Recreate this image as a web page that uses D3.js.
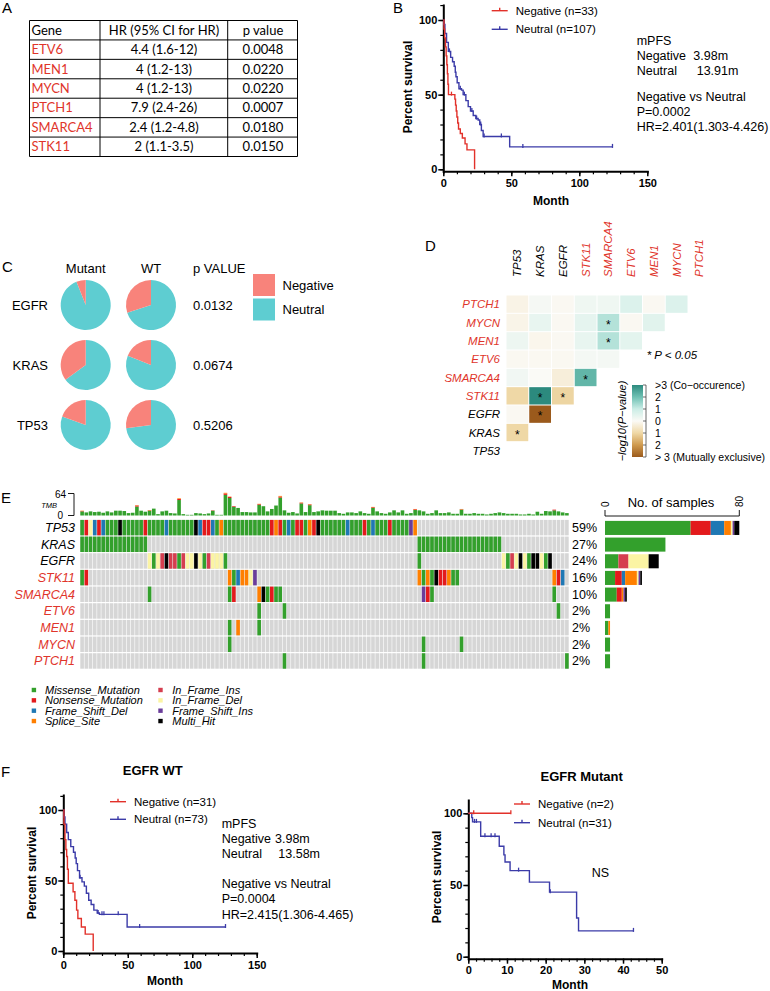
<!DOCTYPE html>
<html>
<head>
<meta charset="utf-8">
<script src="https://cdn.jsdelivr.net/npm/d3@7"></script>
<style>
body { margin: 0; background: #fff; }
svg { display: block; font-family: "Liberation Sans", Arial, sans-serif; }
</style>
</head>
<body>
<div id="chart-area"></div>
<script>

// ---------------- data ----------------

// A: Cox regression table
var tableHeader = ["Gene", "HR (95% CI for HR)", "p value"];
var tableGenes = ["ETV6", "MEN1", "MYCN", "PTCH1", "SMARCA4", "STK11"];
var tableHR = ["4.4 (1.6-12)", "4 (1.2-13)", "4 (1.2-13)", "7.9 (2.4-26)", "2.4 (1.2-4.8)", "2 (1.1-3.5)"];
var tableP = ["0.0048", "0.0220", "0.0220", "0.0007", "0.0180", "0.0150"];

// B: Kaplan-Meier, all patients  [month, percent survival]
var bNegative = [[0,100],[0.5,94],[1,88],[1.6,82],[2.1,76],[2.6,70],[3,64],[3.4,57],[3.8,50],[8.5,47],[9,43],[9.5,39],[10,35],[10.6,31],[11.2,27],[12.5,24],[14,21],[16,17],[17.4,13],[23,0]];
var bNegativeCensor = [6];
var bNeutral = [[0,100],[0.4,97],[1.2,91],[2.4,85],[3.7,79],[5.4,75],[6.8,72],[8,69],[8.8,65],[9.3,62],[10.2,58],[11.5,54],[13.4,53],[14.6,50],[16.6,46],[18.3,42],[20,39],[22,36],[23.9,34],[25.6,33],[26.8,30],[28,26],[29.3,22],[48.8,15]];
var bNeutralEnd = 124.4;
var bNeutralCensor = [4.5, 12.5, 15.5, 21, 24.5, 27.5, 30, 42.7, 58.5, 124.4];

// C: pies (share of Negative)
var pieGenes = ["EGFR", "KRAS", "TP53"];
var pieMutantNeg = [0.06, 0.35, 0.195];
var pieWtNeg = [0.30, 0.19, 0.27];
var pieP = ["0.0132", "0.0674", "0.5206"];

// D: somatic interactions, signed -log10(p) (lower triangle) and significance
var hmGenes = ["TP53", "KRAS", "EGFR", "STK11", "SMARCA4", "ETV6", "MEN1", "MYCN", "PTCH1"];
var hmValues = [
    [],
    [-1.0],
    [-0.05, -3],
    [-1.0, 3, -1.05],
    [0.2, 0.02, -0.35, 2.2],
    [-0.06, -0.06, -0.06, 0.15, 0.15],
    [0.3, -0.12, -0.05, 0.4, 1.25, 0.5],
    [-0.18, 0.4, -0.05, 0.45, 1.25, -0.05, 0.55],
    [-0.2, 0.12, -0.05, 0.25, 0.25, 0.65, -0.05, 0.65]
];
var hmSig = [
    [],
    [1],
    [0, 1],
    [0, 1, 1],
    [0, 0, 0, 1],
    [0, 0, 0, 0, 0],
    [0, 0, 0, 0, 1, 0],
    [0, 0, 0, 0, 1, 0, 0],
    [0, 0, 0, 0, 0, 0, 0, 0]
];

// E: oncoplot
var nSamples = 116;
var oncoGenes = ["TP53", "KRAS", "EGFR", "STK11", "SMARCA4", "ETV6", "MEN1", "MYCN", "PTCH1"];
var oncoPct = ["59%", "27%", "24%", "16%", "10%", "2%", "2%", "2%", "2%"];
var mutTypes = ["Missense_Mutation", "Nonsense_Mutation", "Frame_Shift_Del", "Splice_Site", "In_Frame_Ins", "In_Frame_Del", "Frame_Shift_Ins", "Multi_Hit"];
var mutCodes = ["M", "N", "D", "S", "I", "E", "F", "H"];
var mutColors = ["#33a02c", "#e31a1c", "#1f78b4", "#ff7f00", "#d53e4f", "#fbf4a4", "#6a3d9a", "#000000"];
// [first sample column, one code per sample]
var oncoSegments = [
    [[0, "MNEDNDMMMHMMMMMNMMMMDMMMMMMHDNNDMSMMMMMMMMMMMNSNMDMNNMSNHMMMMMMDMMMNMDMMMNMMMMFS"]],
    [[0, "MMMMMMMMMMMMMMMM"], [80, "MMMMMMMMMMMMMMMMMMMM"]],
    [[16, "EMEIHIIMIEEHEMIEEEM"], [80, "M"], [100, "EMIEHEMHHEMH"]],
    [[0, "MN"], [35, "SMDSSEF"], [80, "SMSMHNNSMM"], [112, "SND"]],
    [[16, "M"], [35, "MN"], [42, "SHMNMM"], [81, "FNM"], [112, "M"]],
    [[42, "M"], [48, "M"], [113, "M"]],
    [[35, "M"], [37, "S"], [42, "M"]],
    [[35, "M"], [81, "M"], [90, "M"]],
    [[48, "M"], [81, "M"], [115, "M"]]
];
var tmb = [
    14, 9, 12, 10, 11, 8, 12, 9, 14, 14,
    13, 7, 8, 30, 14, 11, 16, 20, 4, 12,
    14, 7, 6, 50, 4, 2, 2, 7, 6, 4,
    6, 15, 2, 2, 66, 55, 27, 22, 10, 10,
    9, 9, 34, 27, 12, 19, 29, 57, 15, 8,
    10, 6, 38, 10, 33, 10, 12, 15, 14, 14,
    14, 7, 5, 9, 9, 7, 12, 7, 5, 25,
    12, 7, 5, 9, 15, 9, 15, 5, 7, 19,
    15, 12, 5, 7, 15, 7, 7, 9, 5, 5,
    19, 5, 5, 7, 5, 5, 3, 5, 7, 9,
    7, 5, 5, 5, 3, 3, 5, 3, 11, 5,
    13, 12, 17, 12, 9, 7
];
// [sample column, nonsense part, splice part] of TMB
var tmbTop = [[0,1,1],[13,3,1],[16,1,1],[23,3,2],[31,1,0],[34,4,2],[35,3,1],[36,2,0],[42,2,1],[47,3,2],[52,2,1],[54,2,1],[69,2,1],[79,2,1],[90,1,1],[112,2,0]];

// F: Kaplan-Meier by EGFR status
var wtNegative = [[0,100],[0.5,90],[1.3,79],[2,72],[2.6,67],[3.2,58],[3.9,48],[7.6,42],[9,36],[10.3,29],[11.3,23],[14,17],[17,12],[23.2,0]];
var wtNeutral = [[0,100],[0.5,95],[1.3,90],[2.6,84],[3.9,79],[5.8,74],[7.9,70],[9.2,66],[10,62],[11,57],[12.6,52],[14.5,49],[16.3,46],[17.9,41],[19.7,36],[21.6,33],[23.7,29],[26.3,27],[28,26],[49.5,17]];
var wtNeutralEnd = 125.8;
var wtNeutralCensor = [13, 27, 30, 31.5, 42.6, 59.2, 125.8];
var mutNegative = [[0,100]];
var mutNegativeEnd = 11;
var mutNegativeCensor = [1.4, 11];
var mutNeutral = [[0,100],[0.9,97],[1.1,94],[3.2,84],[8,77],[9.2,71],[9.5,66],[10.8,60],[15.8,52],[21,45],[28,27],[28.5,18]];
var mutNeutralEnd = 42.7;
var mutNeutralCensor = [1.6, 2.1, 4.3, 5.9, 6.9, 13, 21.2, 42.7];


// ---------------- drawing ----------------

var RED = "#e2312a", BLUE = "#3b3ba8", GENE_RED = "#e0352b";
var NEG = "#f8837b", NEU = "#5ecdd1";

var svg = d3.select("#chart-area").append("svg")
    .attr("width", 770)
    .attr("height", 991);
svg.append("rect").attr("width", 770).attr("height", 991).attr("fill", "#fff");

// panel letters
[["A", 2, 13], ["B", 393, 13], ["C", 2, 272], ["D", 425, 251], ["E", 1, 503], ["F", 1, 777]].forEach(function(l) {
    svg.append("text").attr("x", l[1]).attr("y", l[2]).attr("font-size", 15).text(l[0]);
});

tableA();
kmB();
pieC();
heatmapD();
oncoplotE();
kmF();


function tableA() {
    var g = svg.append("g").attr("font-family", "Lato, 'Liberation Sans', sans-serif").attr("font-size", 13);
    var colX = [29.5, 100, 227.7, 297.5];
    var rows = d3.range(tableGenes.length + 1);
    var y = d3.scaleBand().domain(rows).range([20.5, 156.5]);

    g.selectAll(".hl").data(d3.range(rows.length + 1)).enter().append("line")
        .attr("x1", colX[0]).attr("x2", colX[3])
        .attr("y1", function(i) { return 20.5 + i * y.bandwidth(); })
        .attr("y2", function(i) { return 20.5 + i * y.bandwidth(); })
        .attr("stroke", "#000").attr("stroke-width", 1);
    g.selectAll(".vl").data(colX).enter().append("line")
        .attr("x1", function(d) { return d; }).attr("x2", function(d) { return d; })
        .attr("y1", 20.5).attr("y2", 156.5)
        .attr("stroke", "#000").attr("stroke-width", 1);

    var cy = function(i) { return y(i) + y.bandwidth() / 2 + 4.5; };
    g.append("text").attr("x", 31.5).attr("y", cy(0)).text(tableHeader[0]);
    g.append("text").attr("x", 164).attr("y", cy(0)).attr("text-anchor", "middle").text(tableHeader[1]);
    g.append("text").attr("x", 263).attr("y", cy(0)).attr("text-anchor", "middle").text(tableHeader[2]);

    g.selectAll(".gn").data(tableGenes).enter().append("text")
        .attr("x", 31.5).attr("y", function(d, i) { return cy(i + 1); })
        .attr("fill", GENE_RED).text(function(d) { return d; });
    g.selectAll(".hr").data(tableHR).enter().append("text")
        .attr("x", 164).attr("y", function(d, i) { return cy(i + 1); })
        .attr("text-anchor", "middle").text(function(d) { return d; });
    g.selectAll(".pv").data(tableP).enter().append("text")
        .attr("x", 263).attr("y", function(d, i) { return cy(i + 1); })
        .attr("text-anchor", "middle").text(function(d) { return d; });
}


function stepAt(pts, t) {
    var v = pts[0][1];
    pts.forEach(function(p) { if (p[0] <= t) v = p[1]; });
    return v;
}

function drawKM(o) {
    var g = svg.append("g");
    var x = d3.scaleLinear().domain(o.xDomain).range(o.xRange);
    var y = d3.scaleLinear().domain([0, 100]).range(o.yRange);
    var axisY = o.yRange[0] + 2;
    var yAx = d3.scaleLinear().domain([y.invert(axisY), y.invert(o.yTop)]).range([axisY, o.yTop]);

    var style = function(s) {
        s.selectAll("line").attr("stroke", "#000").attr("stroke-width", 1.5);
        s.selectAll("path").attr("stroke", "#000").attr("stroke-width", 2).attr("stroke-linecap", "square");
        s.selectAll("text").attr("font-size", 11).attr("font-weight", "bold").attr("fill", "#000")
            .attr("font-family", "'Liberation Sans', Arial, sans-serif");
    };

    // minor ticks
    var xMinor = d3.range(o.xDomain[0], o.xDomain[1] + 0.001, o.xMinor);
    var yMinor = d3.range(0, 121, 10).filter(function(v) { return y(v) >= o.yTop - 0.5; });
    g.append("g").attr("transform", "translate(0," + axisY + ")")
        .call(d3.axisBottom(x).tickValues(xMinor).tickSize(3).tickFormat(""))
        .call(function(s) { s.select(".domain").remove(); s.selectAll("line").attr("stroke-width", 1.2); });
    g.append("g").attr("transform", "translate(" + o.xRange[0] + ",0)")
        .call(d3.axisLeft(yAx).tickValues(yMinor).tickSize(3).tickFormat(""))
        .call(function(s) { s.select(".domain").remove(); s.selectAll("line").attr("stroke-width", 1.2); });

    // major axes
    g.append("g").attr("transform", "translate(0," + axisY + ")")
        .call(d3.axisBottom(x).tickValues(o.xMajor).tickSize(5).tickSizeOuter(0).tickPadding(3).tickFormat(d3.format("d")))
        .call(style);
    g.append("g").attr("transform", "translate(" + o.xRange[0] + ",0)")
        .call(d3.axisLeft(yAx).tickValues([0, 50, 100]).tickSize(5).tickSizeOuter(0).tickPadding(1).tickFormat(d3.format("d")))
        .call(style);

    // axis titles
    g.append("text").attr("transform", "translate(" + o.yTitle[0] + "," + o.yTitle[1] + ") rotate(-90)")
        .attr("text-anchor", "middle").attr("font-weight", "bold").attr("font-size", 12).text("Percent survival");
    g.append("text").attr("x", o.xTitle[0]).attr("y", o.xTitle[1])
        .attr("text-anchor", "middle").attr("font-weight", "bold").attr("font-size", 12).text("Month");

    // curves
    var line = d3.line().curve(d3.curveStepAfter)
        .x(function(d) { return x(d[0]); })
        .y(function(d) { return y(d[1]); });
    o.curves.forEach(function(c) {
        var pts = c.pts.slice();
        if (c.end != null) pts.push([c.end, pts[pts.length - 1][1]]);
        g.append("path").datum(pts).attr("d", line)
            .attr("fill", "none").attr("stroke", c.color).attr("stroke-width", 1.4);
        g.selectAll(null).data(c.censor).enter().append("line")
            .attr("x1", function(t) { return x(t); })
            .attr("x2", function(t) { return x(t); })
            .attr("y1", function(t) { return y(stepAt(c.pts, t)) - 3; })
            .attr("y2", function(t) { return y(stepAt(c.pts, t)) + 1; })
            .attr("stroke", c.color).attr("stroke-width", 1.3);
    });

    // legend
    o.legend.forEach(function(l) {
        g.append("line").attr("x1", l.x).attr("x2", l.x + 16).attr("y1", l.y).attr("y2", l.y)
            .attr("stroke", l.color).attr("stroke-width", 1.4);
        g.append("line").attr("x1", l.x + 8).attr("x2", l.x + 8).attr("y1", l.y - 3).attr("y2", l.y)
            .attr("stroke", l.color).attr("stroke-width", 1.4);
        g.append("text").attr("x", l.x + 24).attr("y", l.y + 4).attr("font-size", 11.5).text(l.label);
    });

    // annotations
    (o.notes || []).forEach(function(n) {
        g.append("text").attr("x", n[0]).attr("y", n[1]).attr("font-size", 12.5).text(n[2]);
    });

    if (o.title) {
        g.append("text").attr("x", o.title[0]).attr("y", o.title[1]).attr("text-anchor", "middle")
            .attr("font-weight", "bold").attr("font-size", 13).text(o.title[2]);
    }
}

function kmB() {
    drawKM({
        xDomain: [0, 150], xRange: [443.3, 647.3], yRange: [169.3, 20], yTop: 5,
        xMajor: [0, 50, 100, 150], xMinor: 10,
        yTitle: [412, 87], xTitle: [551, 205],
        curves: [
            {pts: bNeutral, end: bNeutralEnd, censor: bNeutralCensor, color: BLUE},
            {pts: bNegative, end: null, censor: bNegativeCensor, color: RED}
        ],
        legend: [
            {x: 491.7, y: 10.7, color: RED, label: "Negative (n=33)"},
            {x: 491.7, y: 29.3, color: BLUE, label: "Neutral (n=107)"}
        ],
        notes: [
            [636.7, 44.5, "mPFS"],
            [636.7, 59.5, "Negative"], [693.3, 59.5, "3.98m"],
            [636.7, 75, "Neutral"], [696.7, 75, "13.91m"],
            [636.7, 101, "Negative vs Neutral"],
            [636.7, 116, "P=0.0002"],
            [636.7, 131, "HR=2.401(1.303-4.426)"]
        ]
    });
}

function kmF() {
    drawKM({
        xDomain: [0, 150], xRange: [63.3, 256.7], yRange: [951, 810], yTop: 795,
        xMajor: [0, 50, 100, 150], xMinor: 10,
        yTitle: [35.5, 873], xTitle: [165, 985],
        title: [152.7, 775, "EGFR WT"],
        curves: [
            {pts: wtNeutral, end: wtNeutralEnd, censor: wtNeutralCensor, color: BLUE},
            {pts: wtNegative, end: null, censor: [], color: RED}
        ],
        legend: [
            {x: 110, y: 801.7, color: RED, label: "Negative (n=31)"},
            {x: 110, y: 819.3, color: BLUE, label: "Neutral (n=73)"}
        ],
        notes: [
            [221.7, 827.5, "mPFS"],
            [221.7, 843, "Negative"], [275, 843, "3.98m"],
            [221.7, 858, "Neutral"], [278.3, 858, "13.58m"],
            [221.7, 888, "Negative vs Neutral"],
            [221.7, 903, "P=0.0004"],
            [221.7, 918.5, "HR=2.415(1.306-4.465)"]
        ]
    });
    drawKM({
        xDomain: [0, 50], xRange: [468.3, 661.7], yRange: [956.7, 813.3], yTop: 800,
        xMajor: [0, 10, 20, 30, 40, 50], xMinor: 2,
        yTitle: [440.5, 877], xTitle: [570, 989],
        title: [581.7, 781, "EGFR Mutant"],
        curves: [
            {pts: mutNeutral, end: mutNeutralEnd, censor: mutNeutralCensor, color: BLUE},
            {pts: mutNegative, end: mutNegativeEnd, censor: mutNegativeCensor, color: RED}
        ],
        legend: [
            {x: 514, y: 804, color: RED, label: "Negative (n=2)"},
            {x: 514, y: 822.7, color: BLUE, label: "Neutral (n=31)"}
        ],
        notes: [[591.7, 876.5, "NS"]]
    });
}


function pieC() {
    var g = svg.append("g").attr("font-size", 13);
    var colX = [85.7, 151];
    var rowY = d3.scalePoint().domain(pieGenes).range([305, 425]);
    var pie = d3.pie().sort(null);
    var arc = d3.arc().innerRadius(0).outerRadius(25);

    g.append("text").attr("x", 85.7).attr("y", 273).attr("text-anchor", "middle").text("Mutant");
    g.append("text").attr("x", 151).attr("y", 273).attr("text-anchor", "middle").text("WT");
    g.append("text").attr("x", 193).attr("y", 273).text("p VALUE");

    pieGenes.forEach(function(gene, i) {
        [pieMutantNeg[i], pieWtNeg[i]].forEach(function(f, k) {
            g.append("g").attr("transform", "translate(" + colX[k] + "," + rowY(gene) + ")")
                .selectAll("path").data(pie([1 - f, f])).enter().append("path")
                .attr("d", arc)
                .attr("fill", function(d, j) { return j ? NEG : NEU; });
        });
        g.append("text").attr("x", 48).attr("y", rowY(gene) + 5).attr("text-anchor", "end").text(gene);
        g.append("text").attr("x", 193).attr("y", rowY(gene) + 5).text(pieP[i]);
    });

    // legend
    [["Negative", NEG, 274], ["Neutral", NEU, 298.5]].forEach(function(l) {
        g.append("rect").attr("x", 253).attr("y", l[2]).attr("width", 22).attr("height", 22).attr("fill", l[1]);
        g.append("text").attr("x", 282.5).attr("y", l[2] + 15.5).text(l[0]);
    });
}


function heatmapD() {
    var g = svg.append("g");
    var x = d3.scaleBand().domain(hmGenes).range([506, 506 + 9 * 22.75]);
    var y = d3.scaleBand().domain(hmGenes.slice().reverse()).range([295, 460]);
    var color = d3.scaleLinear()
        .domain([-3, -2, -1, 0, 1, 2, 3])
        .range(["#9b5a1c", "#cf9a4e", "#efd8a6", "#fbfaf6", "#cbede6", "#6fc1b3", "#2c8a7e"])
        .clamp(true);
    var isRed = function(i) { return i >= 3; };

    // column labels
    g.selectAll(".cl").data(hmGenes).enter().append("text")
        .attr("transform", function(d) { return "translate(" + (x(d) + x.bandwidth() / 2 + 4) + ",277) rotate(-90)"; })
        .attr("font-size", 11.5).attr("font-style", "italic")
        .attr("fill", function(d, i) { return isRed(i) ? GENE_RED : "#000"; })
        .text(function(d) { return d; });
    // row labels
    g.selectAll(".rl").data(hmGenes).enter().append("text")
        .attr("x", 500).attr("y", function(d) { return y(d) + y.bandwidth() / 2 + 4; })
        .attr("text-anchor", "end").attr("font-size", 11.5).attr("font-style", "italic")
        .attr("fill", function(d, i) { return isRed(i) ? GENE_RED : "#000"; })
        .text(function(d) { return d; });

    var cells = [];
    hmValues.forEach(function(row, i) {
        row.forEach(function(v, j) { cells.push({r: hmGenes[i], c: hmGenes[j], v: v, s: hmSig[i][j]}); });
    });
    g.selectAll(".cell").data(cells).enter().append("rect")
        .attr("x", function(d) { return x(d.c) + 0.5; })
        .attr("y", function(d) { return y(d.r) + 0.5; })
        .attr("width", x.bandwidth() - 1)
        .attr("height", y.bandwidth() - 1)
        .attr("fill", function(d) { return color(d.v); });
    g.selectAll(".star").data(cells.filter(function(d) { return d.s; })).enter().append("text")
        .attr("x", function(d) { return x(d.c) + x.bandwidth() / 2; })
        .attr("y", function(d) { return y(d.r) + y.bandwidth() / 2 + 6; })
        .attr("text-anchor", "middle").attr("font-size", 12).text("*");

    g.append("text").attr("x", 646.7).attr("y", 359).attr("font-size", 11.5).attr("font-style", "italic").text("* P < 0.05");

    // colour bar
    var cb = d3.scaleLinear().domain([3, -3]).range([385, 457]);
    var grad = svg.append("defs").append("linearGradient").attr("id", "bbg")
        .attr("x1", 0).attr("x2", 0).attr("y1", 0).attr("y2", 1);
    grad.selectAll("stop").data(d3.range(3, -3.01, -0.5)).enter().append("stop")
        .attr("offset", function(d) { return (3 - d) / 6; })
        .attr("stop-color", function(d) { return color(d); });
    g.append("rect").attr("x", 632).attr("y", 385).attr("width", 11).attr("height", 72).attr("fill", "url(#bbg)");
    var cbLabels = [">3 (Co\u2212occurence)", "2", "1", "0", "1", "2", "> 3 (Mutually exclusive)"];
    var cbVals = [3, 2, 1, 0, -1, -2, -3];
    g.selectAll(".cbt").data(cbVals).enter().append("line")
        .attr("x1", 643).attr("x2", 646)
        .attr("y1", function(d) { return cb(d); }).attr("y2", function(d) { return cb(d); })
        .attr("stroke", "#444").attr("stroke-width", 0.8);
    g.append("line").attr("x1", 646).attr("x2", 646).attr("y1", 385).attr("y2", 457)
        .attr("stroke", "#444").attr("stroke-width", 0.8);
    g.selectAll(".cbl").data(cbVals).enter().append("text")
        .attr("x", 655).attr("y", function(d) { return cb(d) + 4; })
        .attr("font-size", 10.5).text(function(d, i) { return cbLabels[i]; });
    g.append("text").attr("transform", "translate(626,421) rotate(-90)")
        .attr("text-anchor", "middle").attr("font-size", 11).attr("font-style", "italic")
        .text("\u2212log10(P\u2212value)");
}


function oncoplotE() {
    var g = svg.append("g");
    var x = d3.scaleBand().domain(d3.range(nSamples)).range([80, 569]);
    var y = d3.scaleBand().domain(oncoGenes).range([519.3, 669.3]);
    var codeColor = function(c) { return mutColors[mutCodes.indexOf(c)]; };
    var isRed = function(i) { return i >= 3; };

    // background grid
    var bg = [];
    oncoGenes.forEach(function(gene) { d3.range(nSamples).forEach(function(s) { bg.push([gene, s]); }); });
    g.selectAll(".bg").data(bg).enter().append("rect")
        .attr("x", function(d) { return x(d[1]) + 0.3; })
        .attr("y", function(d) { return y(d[0]) + 0.6; })
        .attr("width", x.bandwidth() - 0.6)
        .attr("height", y.bandwidth() - 1.2)
        .attr("fill", "#d6d6d6");

    // mutations
    var muts = [];
    oncoGenes.forEach(function(gene, gi) {
        oncoSegments[gi].forEach(function(seg) {
            seg[1].split("").forEach(function(code, k) { muts.push({gene: gene, s: seg[0] + k, code: code}); });
        });
    });
    g.selectAll(".mut").data(muts).enter().append("rect")
        .attr("x", function(d) { return x(d.s) + 0.3; })
        .attr("y", function(d) { return y(d.gene) + 0.6; })
        .attr("width", x.bandwidth() - 0.6)
        .attr("height", y.bandwidth() - 1.2)
        .attr("fill", function(d) { return codeColor(d.code); });

    // gene labels and percentages
    g.selectAll(".gl").data(oncoGenes).enter().append("text")
        .attr("x", 75).attr("y", function(d) { return y(d) + y.bandwidth() / 2 + 4.5; })
        .attr("text-anchor", "end").attr("font-size", 12.5).attr("font-style", "italic")
        .attr("fill", function(d, i) { return isRed(i) ? GENE_RED : "#000"; })
        .text(function(d) { return d; });
    g.selectAll(".pl").data(oncoPct).enter().append("text")
        .attr("x", 572).attr("y", function(d, i) { return y(oncoGenes[i]) + y.bandwidth() / 2 + 4.5; })
        .attr("font-size", 12.5).text(function(d) { return d; });

    // TMB bars
    var ty = d3.scaleLinear().domain([0, 64]).range([515.5, 493.5]);
    var tmbStack = tmb.map(function(v, i) {
        var top = tmbTop.filter(function(t) { return t[0] === i; })[0] || [i, 0, 0];
        return [[0, v - top[1] - top[2], mutColors[0]], [v - top[1] - top[2], v - top[2], mutColors[1]], [v - top[2], v, mutColors[3]]];
    });
    tmbStack.forEach(function(parts, i) {
        g.selectAll(null).data(parts.filter(function(p) { return p[1] > p[0]; })).enter().append("rect")
            .attr("x", x(i) + 0.3).attr("width", x.bandwidth() - 0.6)
            .attr("y", function(p) { return ty(p[1]); })
            .attr("height", function(p) { return ty(p[0]) - ty(p[1]); })
            .attr("fill", function(p) { return p[2]; });
    });
    g.append("path").attr("d", "M68," + ty(64) + "H74V" + ty(0) + "H68")
        .attr("fill", "none").attr("stroke", "#000").attr("stroke-width", 0.9);
    g.append("text").attr("x", 66).attr("y", ty(64) + 4).attr("text-anchor", "end").attr("font-size", 10).text("64");
    g.append("text").attr("x", 57).attr("y", 507.5).attr("text-anchor", "end").attr("font-size", 7.5).attr("font-style", "italic").text("TMB");
    g.append("text").attr("x", 63).attr("y", ty(0) + 3).attr("text-anchor", "end").attr("font-size", 10).text("0");

    // sample count bars
    var bx = d3.scaleLinear().domain([0, 80]).range([605, 739.3]);
    oncoGenes.forEach(function(gene, gi) {
        var counts = mutCodes.map(function() { return 0; });
        oncoSegments[gi].forEach(function(seg) {
            seg[1].split("").forEach(function(c) { counts[mutCodes.indexOf(c)] += 1; });
        });
        var acc = 0;
        var parts = counts.map(function(n, k) { var p = [acc, acc + n, mutColors[k]]; acc += n; return p; })
            .filter(function(p) { return p[1] > p[0]; });
        g.selectAll(null).data(parts).enter().append("rect")
            .attr("x", function(p) { return bx(p[0]); })
            .attr("width", function(p) { return bx(p[1]) - bx(p[0]); })
            .attr("y", y(gene) + 1.6)
            .attr("height", y.bandwidth() - 2.6)
            .attr("fill", function(p) { return p[2]; });
    });
    g.append("path").attr("d", "M" + bx(0) + ",510V516H" + bx(80) + "V510")
        .attr("fill", "none").attr("stroke", "#000").attr("stroke-width", 0.9);
    [0, 80].forEach(function(v) {
        g.append("text").attr("transform", "translate(" + (bx(v) + 3.5) + ",507) rotate(-90)")
            .attr("font-size", 10).text(v);
    });
    g.append("text").attr("x", 671).attr("y", 507).attr("text-anchor", "middle").attr("font-size", 13).text("No. of samples");

    // legend
    var lg = g.append("g").attr("font-size", 11).attr("font-style", "italic");
    mutTypes.forEach(function(t, i) {
        var cx = i < 4 ? 31.7 : 158.3, tx = i < 4 ? 45 : 172.3;
        var cy = 690 + (i % 4) * 10.35;
        lg.append("rect").attr("x", cx).attr("y", cy - 2.2).attr("width", 4.4).attr("height", 4.4).attr("fill", mutColors[i]);
        lg.append("text").attr("x", tx).attr("y", cy + 4).text(t);
    });
}

</script>
</body>
</html>
